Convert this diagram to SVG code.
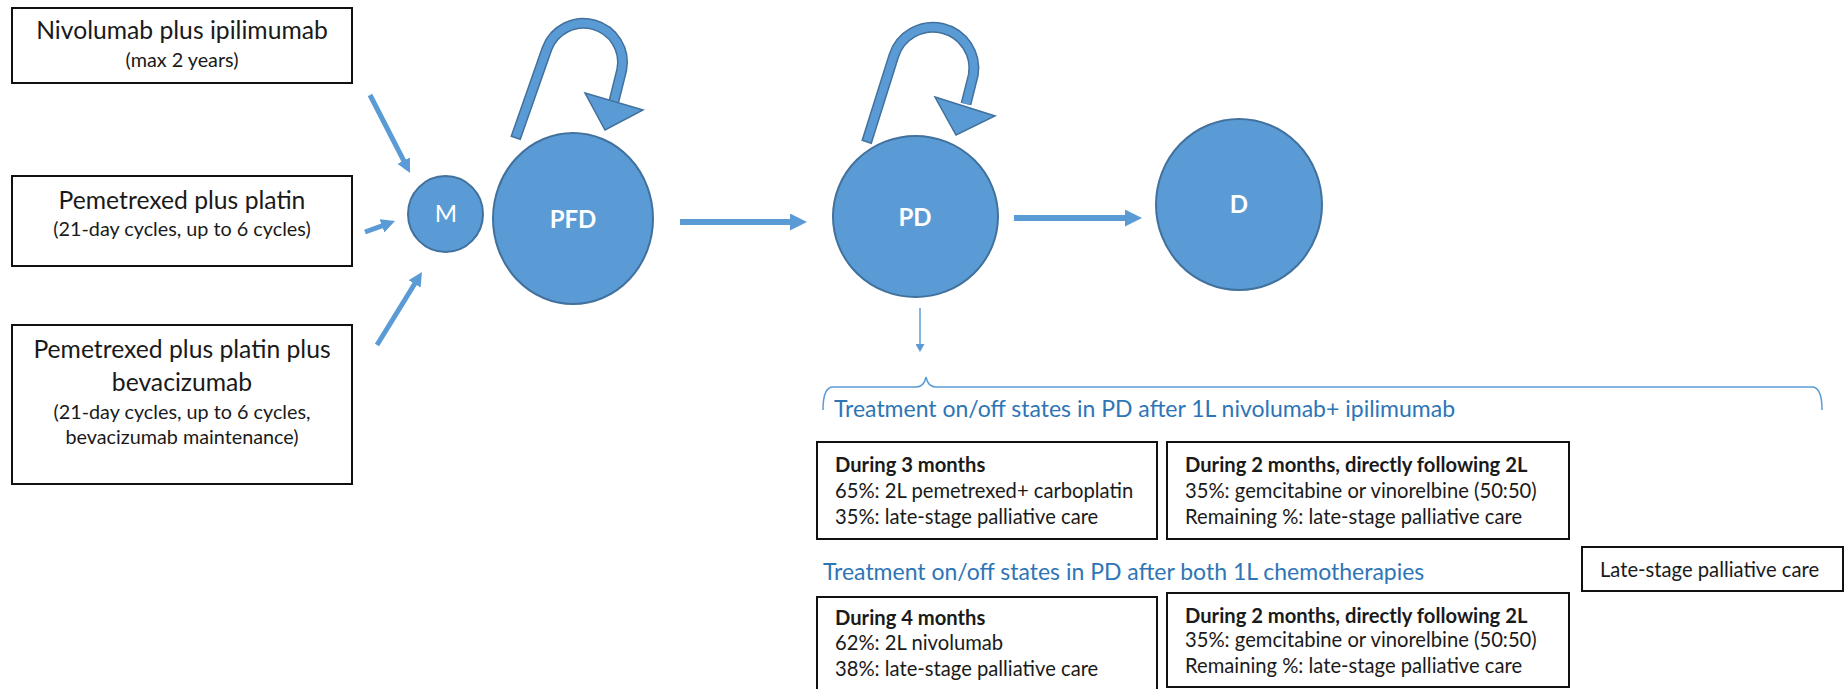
<svg xmlns="http://www.w3.org/2000/svg" width="1845" height="689" viewBox="0 0 1845 689">
<style>
text{font-family:Lato,"Liberation Sans",sans-serif;fill:#1a1a1a}
.box{fill:#fff;stroke:#111;stroke-width:2}
.main{font-size:24.7px;text-anchor:middle}
.sub{font-size:19.8px;text-anchor:middle}
.node{fill:#5B9BD5;stroke:#41719C;stroke-width:2}
.lbl{fill:#fff;font-size:24px;text-anchor:middle}
.b{font-weight:bold}
.head{fill:#2E75B6;font-size:23px}
.t{font-size:20.2px}
.arr{stroke:#5B9BD5;fill:none}
.loopo{stroke:#41719C;stroke-width:11;fill:none}
.loopi{stroke:#5B9BD5;stroke-width:8;fill:none}
.head3{fill:#5B9BD5;stroke:#41719C;stroke-width:1.5;stroke-linejoin:miter}
</style>
<defs>
<marker id="ah" markerUnits="userSpaceOnUse" markerWidth="17" markerHeight="17" refX="7" refY="8.5" orient="auto"><path d="M0,0 L17,8.5 L0,17 z" fill="#5B9BD5"/></marker>
<marker id="ahs" markerUnits="userSpaceOnUse" markerWidth="14" markerHeight="14" refX="6" refY="7" orient="auto"><path d="M0,0 L14,7 L0,14 z" fill="#5B9BD5"/></marker>
<marker id="ahd" markerUnits="userSpaceOnUse" markerWidth="9" markerHeight="9" refX="3" refY="4.5" orient="auto"><path d="M0,0 L8,4.5 L0,9 z" fill="#5B9BD5"/></marker>
</defs>

<g id="box-nivo">
<rect class="box" x="12" y="8" width="340" height="75"/>
<text class="main" x="182" y="39">Nivolumab plus ipilimumab</text>
<text class="sub" x="182" y="67">(max 2 years)</text>
</g>
<g id="box-pem">
<rect class="box" x="12" y="176" width="340" height="90"/>
<text class="main" x="182" y="209">Pemetrexed plus platin</text>
<text class="sub" x="182" y="236">(21-day cycles, up to 6 cycles)</text>
</g>
<g id="box-pembev">
<rect class="box" x="12" y="325" width="340" height="159"/>
<text class="main" x="182" y="358">Pemetrexed plus platin plus</text>
<text class="main" x="182" y="391">bevacizumab</text>
<text class="sub" x="182" y="419">(21-day cycles, up to 6 cycles,</text>
<text class="sub" x="182" y="444">bevacizumab maintenance)</text>
</g>

<g id="node-M">
<ellipse class="node" cx="445.5" cy="214" rx="37.5" ry="38"/>
<text class="lbl" x="446" y="222">M</text>
</g>
<g id="node-PFD">
<ellipse class="node" cx="573" cy="218.5" rx="80" ry="85.5"/>
<text class="lbl b" x="573" y="228">PFD</text>
</g>
<g id="node-PD">
<ellipse class="node" cx="915.5" cy="216.5" rx="82.5" ry="80.5"/>
<text class="lbl b" x="915" y="226">PD</text>
</g>
<g id="node-D">
<ellipse class="node" cx="1239" cy="204.5" rx="83" ry="85.5"/>
<text class="lbl b" x="1239" y="213">D</text>
</g>

<g id="connectors">
<line class="arr" stroke-width="5" x1="370" y1="95" x2="406.4" y2="165.9" marker-end="url(#ahs)"/>
<line class="arr" stroke-width="5" x1="365" y1="232" x2="387.5" y2="223.8" marker-end="url(#ahs)"/>
<line class="arr" stroke-width="5" x1="377" y1="345" x2="417.8" y2="278.8" marker-end="url(#ahs)"/>
<line class="arr" stroke-width="6" x1="680" y1="222" x2="797" y2="222" marker-end="url(#ah)"/>
<line class="arr" stroke-width="6" x1="1014" y1="218" x2="1132" y2="218" marker-end="url(#ah)"/>
<line class="arr" stroke-width="1.5" x1="920" y1="308" x2="920" y2="347" marker-end="url(#ahd)"/>
<path class="loopo" d="M515.5,138.5 L547,48.6 A39,39 0 0 1 621.8,69.7 L614,101"/>
<path class="loopi" d="M516,137 L547,48.6 A39,39 0 0 1 621.8,69.7 L614,101"/>
<polygon class="head3" points="585,93 643,110 605,130"/>
<path class="loopo" d="M866.5,142.5 L893.8,55.8 A41,41 0 0 1 973.3,75 L966,104"/>
<path class="loopi" d="M867,141 L893.8,55.8 A41,41 0 0 1 973.3,75 L966,104"/>
<polygon class="head3" points="935,97 995,116 956,135"/>
<path class="arr" stroke-width="1.5" d="M823,410 Q823,387 833,387 L916,387 Q924,387 926,377 Q928,387 936,387 L1812,387 Q1822,387 1822,410"/>
</g>

<g id="heading-nivo">
<text class="head" x="834" y="417">Treatment on/off states in PD after 1L nivolumab+ ipilimumab</text>
</g>
<g id="box-a">
<rect class="box" x="817" y="442" width="340" height="97"/>
<text class="t b" x="835" y="472">During 3 months</text>
<text class="t" x="835" y="498">65%: 2L pemetrexed+ carboplatin</text>
<text class="t" x="835" y="524">35%: late-stage palliative care</text>
</g>
<g id="box-b">
<rect class="box" x="1167" y="442" width="402" height="97"/>
<text class="t b" x="1185" y="472">During 2 months, directly following 2L</text>
<text class="t" x="1185" y="498">35%: gemcitabine or vinorelbine (50:50)</text>
<text class="t" x="1185" y="524">Remaining %: late-stage palliative care</text>
</g>
<g id="box-late">
<rect class="box" x="1582" y="547" width="261" height="44"/>
<text class="t" x="1600" y="577">Late-stage palliative care</text>
</g>
<g id="heading-chemo">
<text class="head" x="823" y="580">Treatment on/off states in PD after both 1L chemotherapies</text>
</g>
<g id="box-c">
<rect class="box" x="817" y="597" width="340" height="100"/>
<text class="t b" x="835" y="625">During 4 months</text>
<text class="t" x="835" y="650">62%: 2L nivolumab</text>
<text class="t" x="835" y="676">38%: late-stage palliative care</text>
</g>
<g id="box-d">
<rect class="box" x="1167" y="593" width="402" height="94"/>
<text class="t b" x="1185" y="623">During 2 months, directly following 2L</text>
<text class="t" x="1185" y="647">35%: gemcitabine or vinorelbine (50:50)</text>
<text class="t" x="1185" y="673">Remaining %: late-stage palliative care</text>
</g>
</svg>
